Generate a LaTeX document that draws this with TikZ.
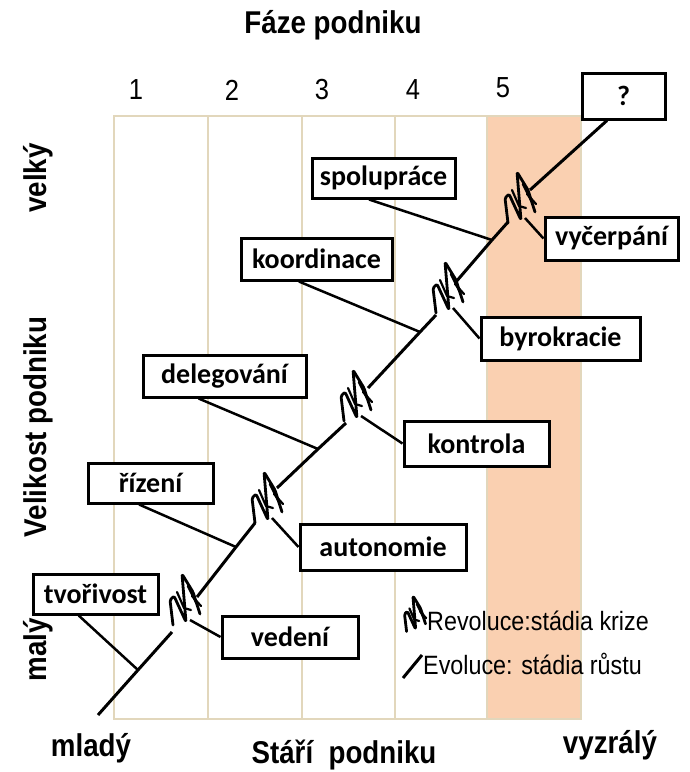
\documentclass[tikz,border=0pt]{standalone}
\usepackage{fontspec}
\setmainfont[FakeStretch=0.88]{Liberation Sans}
\newfontfamily\carlito{Carlito}
\definecolor{okraj}{RGB}{226,215,188}
\definecolor{broskev}{RGB}{250,208,177}

\begin{document}
\begin{tikzpicture}[x=1pt, y=-1pt,
  ramecek/.style={draw, line width=3pt, fill=white, inner sep=0pt,
    font=\fontsize{28}{32}\selectfont\carlito\bfseries},
  cara/.style={line width=3pt},
  spoj/.style={line width=2.5pt},
  popis/.style={font=\fontsize{31.5}{35}\selectfont\bfseries},
  cislo/.style={font=\fontsize{29}{32}\selectfont},
  legenda/.style={font=\fontsize{26.5}{29}\selectfont, anchor=west, inner sep=0pt},
  krize/.pic={
    \draw[line width=2.8pt, line join=round, line cap=round, rounded corners=1.5pt]
      (-12,25) -- (-15,0) -- (-11,-4) -- (1,22) -- (-3,-26) -- (8,-8) -- (15,14);
    \draw[line width=2.5pt, line cap=round] (3,-14) -- (12,4);
    \draw[line width=2.2pt, line cap=round] (-8,-8) -- (-1,8) -- (6,10);
    \draw[line width=2.2pt, line cap=round] (7,-4) -- (16,6);
    \coordinate (-out) at (5,20);
  }]

  \useasboundingbox (0,0) rectangle (689,772);

  % Sloupce fazi
  \fill[broskev] (487,116) rectangle (581,719);
  \draw[okraj, line width=1.5pt] (114,116) rectangle (581,719);
  \foreach \x in {208,302,395,487}
    \draw[okraj, line width=1.5pt] (\x,116) -- (\x,719);

  \node[cislo] at (136,90) {1};
  \node[cislo] at (232,90) {2};
  \node[cislo] at (322,90) {3};
  \node[cislo] at (413,90) {4};
  \node[cislo] at (503,88) {5};

  % Popisy os
  \node[popis] at (333,25) {Fáze podniku};
  \node[popis] at (91,748) {mladý};
  \node[popis] at (344,755) {Stáří~~podniku};
  \node[popis] at (610,745) {vyzrálý};
  \node[popis, rotate=90] at (38,178) {velký};
  \node[popis, rotate=90] at (38,427) {Velikost podniku};
  \node[popis, rotate=90] at (38,650) {malý};

  % Evoluce -- useky rustu
  \coordinate (e0a) at (98,715);  \coordinate (p1) at (138,670); \coordinate (e0b) at (172,632);
  \coordinate (e1a) at (197,597); \coordinate (p2) at (236,547); \coordinate (e1b) at (255,523);
  \coordinate (e2a) at (277,488); \coordinate (p3) at (318,449); \coordinate (e2b) at (346,423);
  \coordinate (e3a) at (368,388); \coordinate (p4) at (420,332); \coordinate (e3b) at (436,315);
  \coordinate (e4a) at (455,283); \coordinate (p5) at (492,240); \coordinate (e4b) at (508,222);
  \coordinate (e5a) at (530,190);

  \draw[cara] (e0a) -- (p1) -- (e0b);
  \draw[cara] (e1a) -- (p2) -- (e1b);
  \draw[cara] (e2a) -- (p3) -- (e2b);
  \draw[cara] (e3a) -- (p4) -- (e3b);
  \draw[cara] (e4a) -- (p5) -- (e4b);

  % Revoluce -- krize
  \pic (k1) at (185,600) {krize};
  \pic (k2) at (267,498) {krize};
  \pic (k3) at (356,396) {krize};
  \pic (k4) at (448,288) {krize};
  \pic (k5) at (520,198) {krize};

  % Ramecky
  \node[ramecek, minimum width=83pt, minimum height=46pt] (otaznik) at (623.5,96) {?};
  \node[ramecek, minimum width=143pt, minimum height=40pt] (spoluprace) at (383.5,178) {spolupráce};
  \node[ramecek, minimum width=133pt, minimum height=43pt] (vycerpani) at (611.5,238.5) {vyčerpání};
  \node[ramecek, minimum width=151pt, minimum height=42pt] (koordinace) at (316.5,259) {koordinace};
  \node[ramecek, minimum width=159pt, minimum height=43pt] (byrokracie) at (560.5,338.5) {byrokracie};
  \node[ramecek, minimum width=163pt, minimum height=42pt] (delegovani) at (224.5,376) {delegování};
  \node[ramecek, minimum width=145pt, minimum height=45pt] (kontrola) at (476.5,443.5) {kontrola};
  \node[ramecek, minimum width=125pt, minimum height=40pt] (rizeni) at (150.5,483) {řízení};
  \node[ramecek, minimum width=166pt, minimum height=46pt] (autonomie) at (383,547) {autonomie};
  \node[ramecek, minimum width=125pt, minimum height=40pt] (tvorivost) at (95.5,594) {tvořivost};
  \node[ramecek, minimum width=136pt, minimum height=42pt] (vedeni) at (290,637) {vedení};

  \draw[cara] (e5a) -- (otaznik.236);

  % Spojnice
  \draw[spoj] (tvorivost.232) -- (p1);
  \draw[spoj] (rizeni.242) -- (p2);
  \draw[spoj] (delegovani.221) -- (p3);
  \draw[spoj] (koordinace.232) -- (p4);
  \draw[spoj] (spoluprace.236) -- (p5);
  \draw[spoj] (k1-out) -- (vedeni.west);
  \draw[spoj] (k2-out) -- (autonomie.west);
  \draw[spoj] (k3-out) -- (kontrola.west);
  \draw[spoj] (k4-out) -- (byrokracie.west);
  \draw[spoj] (k5-out) -- (vycerpani.west);

  % Legenda
  \pic[scale=0.7] (lk) at (415,614) {krize};
  \node[legenda] (rev) at (427,621) {Revoluce:stádia krize};
  \coordinate (le) at (403,678);
  \draw[cara] (le) -- (422,655);
  \node[legenda] (evo) at (423,664) {Evoluce: stádia růstu};

\end{tikzpicture}
\end{document}
